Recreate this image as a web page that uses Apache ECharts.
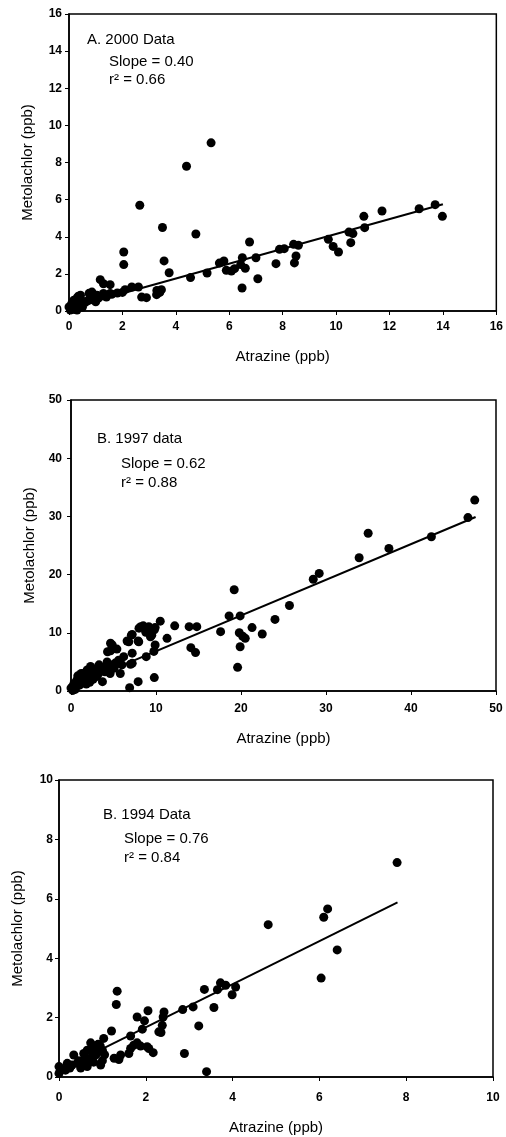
<!DOCTYPE html>
<html>
<head>
<meta charset="utf-8">
<script src="https://cdn.jsdelivr.net/npm/echarts@6/dist/echarts.min.js"></script>
<style>
html,body{margin:0;padding:0;background:#fff;}
#chart{width:506px;height:1137px;}
</style>
</head>
<body>
<div id="chart"></div>
<script>
// ---------- DATA ----------
var xTicksA = [0, 2, 4, 6, 8, 10, 12, 14, 16];
var yTicksA = [0, 2, 4, 6, 8, 10, 12, 14, 16];
var xTicksB = [0, 10, 20, 30, 40, 50];
var yTicksB = [0, 10, 20, 30, 40, 50];
var xTicksC = [0, 2, 4, 6, 8, 10];
var yTicksC = [0, 2, 4, 6, 8, 10];

var labelsA = ["A. 2000 Data", "Slope = 0.40", "r\u00b2 = 0.66"];
var labelsB = ["B. 1997 data", "Slope = 0.62", "r\u00b2 = 0.88"];
var labelsC = ["B. 1994 Data", "Slope = 0.76", "r\u00b2 = 0.84"];

var xTitle = "Atrazine (ppb)";
var yTitle = "Metolachlor (ppb)";

var ptsA = [
  [2.65,5.7],[3.5,4.5],[4.75,4.15],[4.4,7.8],[5.32,9.06],[2.05,3.18],[2.05,2.5],[3.56,2.7],[3.75,2.06],
  [4.55,1.8],[5.17,2.05],[5.63,2.58],[5.8,2.7],[5.89,2.19],[6.08,2.15],[6.2,2.28],[6.43,2.5],[6.49,2.87],
  [6.6,2.3],[6.48,1.24],[6.76,3.72],[7.0,2.87],[7.07,1.74],[7.75,2.55],[7.88,3.32],[8.06,3.36],[8.41,3.59],
  [8.59,3.54],[8.5,2.96],[8.44,2.59],[9.71,3.86],[9.89,3.48],[10.09,3.18],[10.48,4.25],[10.63,4.17],
  [10.55,3.68],[11.04,5.1],[11.07,4.49],[11.72,5.39],[13.11,5.51],[13.71,5.73],[13.98,5.1],
  [1.17,1.69],[1.29,1.47],[1.54,1.42],[0.86,1.02],[0.43,0.85],[0.18,0.58],[0.0,0.22],[0.2,0.1],
  [0.55,0.49],[1.05,0.85],[1.29,0.94],[1.54,0.94],[1.81,0.97],[2.1,1.15],[2.35,1.29],[2.6,1.29],
  [2.72,0.75],[2.9,0.72],[3.28,0.88],[3.46,1.15],[3.4,1.0],[3.29,1.11],
  [0.05,0.05],[0.1,0.2],[0.15,0.1],[0.25,0.45],[0.3,0.7],[0.35,0.8],[0.4,0.3],[0.45,0.6],[0.5,0.2],
  [0.6,0.45],[0.7,0.55],[0.8,0.6],[0.9,0.65],[1.0,0.5],[1.1,0.7],[1.2,0.8],[1.4,0.75],[0.75,0.95],
  [0.3,0.05],[0.1,0.4],[1.6,0.9],[2.0,1.0]
];
var lineA = [[0, 0.15], [14, 5.75]];

var ptsB = [
  [47.5,32.8],[46.7,29.8],[34.96,27.1],[42.4,26.5],[37.4,24.5],[33.9,22.9],[28.5,19.2],[29.2,20.2],
  [19.2,17.4],[25.7,14.7],[18.6,12.9],[19.9,12.9],[24.0,12.3],[21.3,10.9],[22.5,9.8],[19.8,10.0],
  [20.5,9.05],[20.2,9.4],[19.9,7.6],[19.6,4.07],[17.6,10.2],[13.9,11.05],[14.8,11.05],[12.2,11.2],
  [14.1,7.45],[14.65,6.6],[10.5,12.0],[11.3,9.05],[9.9,10.9],[9.5,9.6],[9.35,9.3],[8.0,10.8],[8.5,11.2],
  [8.8,10.1],[9.9,7.9],[9.75,6.8],[8.85,5.9],[9.8,2.3],[7.9,1.6],[6.9,0.57],[6.6,8.6],[7.1,9.6],
  [7.2,6.5],[7.0,4.6],[7.9,8.6],[4.85,7.9],[4.65,6.9],[5.4,7.2],[6.2,5.9],[5.6,5.3],[5.8,3.0],[3.3,4.5],
  [3.7,1.6],[4.25,5.0],[4.2,4.2],[5.05,3.9],[4.6,3.0],[2.3,4.2],[1.9,3.6],[1.5,3.0],[1.1,2.5],[0.7,1.9],
  [0.35,1.3],[0.15,0.7],[0,0.5],
  [0.5,0.3],[1.0,1.0],[1.3,1.8],[1.6,2.2],[2.0,2.8],[2.5,3.2],[2.8,3.8],[3.0,2.5],[3.5,3.4],[4.0,3.6],
  [1.2,3.0],[0.8,2.6],[2.2,1.5],[2.6,2.0],[0.3,0.2],[0.6,1.1],[1.8,1.2],[3.2,2.9],[4.5,4.5],[5.2,4.8],
  [6.0,4.5],[2.0,3.2],[0.9,1.5],[1.4,2.0],[0.2,0.1],
  [8.2,11.05],[9.15,11.05],[9.8,10.5],[7.2,9.7],[7.97,8.45],[6.8,8.45],[4.65,8.2],[4.85,7.3],[4.3,6.75],
  [7.2,4.75],[5.0,4.5],[4.0,3.3],[2.65,3.6]
];
var lineB = [[0, 0.7], [47.6, 29.9]];

var ptsC = [
  [4.82,5.13],[6.1,5.38],[6.19,5.66],[7.79,7.22],[6.41,4.28],[6.04,3.33],[1.34,2.89],[1.32,2.44],
  [3.35,2.95],[3.72,3.17],[3.65,2.94],[3.84,3.09],[4.07,3.03],[3.99,2.77],[3.57,2.34],[3.09,2.36],
  [2.85,2.27],[3.22,1.72],[2.89,0.79],[3.4,0.18],[2.42,2.19],[2.4,2.02],[2.38,1.74],[2.3,1.52],
  [2.05,2.23],[1.8,2.02],[1.97,1.89],[1.92,1.61],[1.65,1.38],[1.21,1.55],[1.03,1.3],[1.72,1.07],
  [1.8,1.15],[1.88,1.04],[2.03,1.02],[2.07,0.96],[2.17,0.82],[1.61,0.79],[1.65,0.96],[1.27,0.63],
  [1.38,0.59],[1.42,0.74],[0.96,0.4],[0.92,1.02],[0.73,1.15],[0.65,0.9],[0.57,0.79],[0.34,0.74],
  [0.42,0.46],[0.19,0.46],[0.04,0.29],[0,0.12],[0.15,0.23],[0,0.35],
  [0.55,0.55],[0.6,0.65],[0.7,0.6],[0.75,0.85],[0.8,0.95],[0.85,0.75],[0.9,0.85],[0.95,1.05],[1.0,0.9],
  [1.05,0.75],[0.65,0.35],[0.5,0.3],[0.45,0.55],[0.3,0.4],[0.25,0.3],[0.8,0.5],[1.0,0.55],[0.9,1.1],
  [2.35,1.5]
];
var lineC = [[0, 0.22], [7.8, 5.88]];

// ---------- CHART ----------
var FONT = "'Liberation Sans', Arial, sans-serif";
var grids = [
  {left: 69, top: 14, width: 430, height: 297},
  {left: 71, top: 400, width: 425, height: 291},
  {left: 59, top: 780, width: 434, height: 297}
];
var xTicks = [xTicksA, xTicksB, xTicksC];
var yTicks = [yTicksA, yTicksB, yTicksC];
var pts = [ptsA, ptsB, ptsC];
var lines = [lineA, lineB, lineC];
var labels = [labelsA, labelsB, labelsC];
var xLabelMargin = [10, 12, 15];
var xNameGap = [38, 40, 43];
var yLabelMargin = [7, 9, 6];
var textPos = [
  [[87, 40], [109, 62], [109, 80]],
  [[97, 439], [121, 464], [121, 483]],
  [[103, 815], [124, 839], [124, 858]]
];

function axisCommon(ticks) {
  return {
    type: 'value',
    min: ticks[0],
    max: ticks[ticks.length - 1],
    interval: ticks[1] - ticks[0],
    axisLine: {show: true, onZero: false, lineStyle: {color: '#000', width: 1.5}},
    axisTick: {show: true, inside: false, length: 4, lineStyle: {color: '#000', width: 1}},
    splitLine: {show: false},
    nameTextStyle: {color: '#000', fontSize: 15, fontFamily: FONT},
    axisLabel: {color: '#000', fontSize: 12, fontWeight: 'bold', fontFamily: FONT}
  };
}

var option = {
  animation: false,
  backgroundColor: '#fff',
  grid: grids.map(function (g) {
    return Object.assign({show: true, borderColor: '#000', borderWidth: 1.5, backgroundColor: 'transparent'}, g);
  }),
  xAxis: [], yAxis: [], series: [], graphic: []
};

for (var i = 0; i < 3; i++) {
  var xa = axisCommon(xTicks[i]);
  xa.gridIndex = i;
  xa.name = xTitle;
  xa.nameLocation = 'middle';
  xa.nameGap = xNameGap[i];
  xa.axisLabel.margin = xLabelMargin[i];
  option.xAxis.push(xa);

  var ya = axisCommon(yTicks[i]);
  ya.gridIndex = i;
  ya.name = yTitle;
  ya.nameLocation = 'middle';
  ya.nameRotate = 90;
  ya.nameGap = 34;
  ya.axisLabel.margin = yLabelMargin[i];
  option.yAxis.push(ya);

  option.series.push({
    type: 'scatter', xAxisIndex: i, yAxisIndex: i, data: pts[i],
    symbol: 'circle', symbolSize: 9, itemStyle: {color: '#000', opacity: 1}
  });
  option.series.push({
    type: 'line', xAxisIndex: i, yAxisIndex: i, data: lines[i],
    symbol: 'none', lineStyle: {color: '#000', width: 2}
  });

  for (var k = 0; k < 3; k++) {
    option.graphic.push({
      type: 'text', x: textPos[i][k][0], y: textPos[i][k][1],
      style: {text: labels[i][k], fill: '#000', font: '15px ' + FONT, verticalAlign: 'middle', align: 'left'}
    });
  }
}

var chart = echarts.init(document.getElementById('chart'));
chart.setOption(option);
</script>
</body>
</html>
